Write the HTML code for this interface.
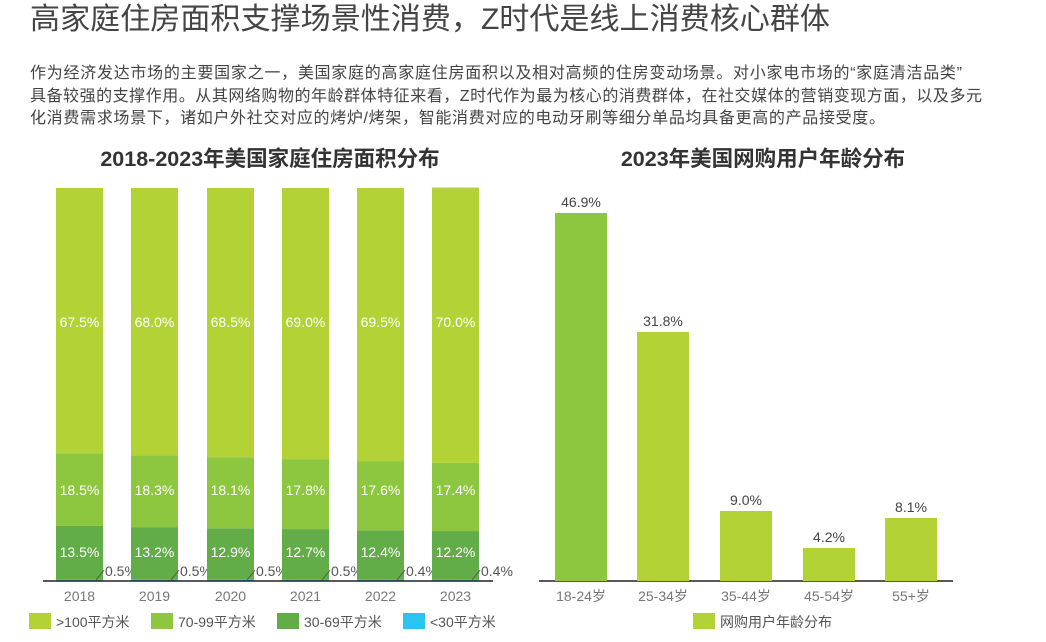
<!DOCTYPE html>
<html><head><meta charset="utf-8"><style>
body{margin:0;background:#fff;width:1046px;height:642px;overflow:hidden;font-family:"Liberation Sans","Noto Sans CJK SC",sans-serif;}
svg{position:absolute;left:0;top:0}
</style></head><body>
<svg width="1046" height="642" xmlns="http://www.w3.org/2000/svg" font-family="Liberation Sans, Noto Sans CJK SC, sans-serif">
<text x="30" y="29" font-size="30" fill="#444" textLength="800" lengthAdjust="spacingAndGlyphs">高家庭住房面积支撑场景性消费，Z时代是线上消费核心群体</text>
<g font-size="16" fill="#444">
<text x="30" y="78" textLength="932" lengthAdjust="spacing">作为经济发达市场的主要国家之一，美国家庭的高家庭住房面积以及相对高频的住房变动场景。对小家电市场的“家庭清洁品类”</text>
<text x="30" y="101" textLength="952" lengthAdjust="spacing">具备较强的支撑作用。从其网络购物的年龄群体特征来看，Z时代作为最为核心的消费群体，在社交媒体的营销变现方面，以及多元</text>
<text x="30" y="123" textLength="855" lengthAdjust="spacing">化消费需求场景下，诸如户外社交对应的烤炉/烤架，智能消费对应的电动牙刷等细分单品均具备更高的产品接受度。</text>
</g>
<g font-size="21.5" font-weight="bold" fill="#333" text-anchor="middle">
<text x="270" y="166">2018-2023年美国家庭住房面积分布</text>
<text x="763" y="166">2023年美国网购用户年龄分布</text>
</g>
<g id="left"></g>
<line x1="43" y1="581" x2="493" y2="581" stroke="#222" stroke-width="1.5"/>
<line x1="539" y1="581" x2="953" y2="581" stroke="#222" stroke-width="1.5"/>
<g fill="#b2d235">
<rect x="555" y="213" width="52" height="368" fill="#8dc63f"/>
<rect x="637" y="332" width="52" height="249"/>
<rect x="720" y="511" width="52" height="70"/>
<rect x="803" y="548" width="52" height="33"/>
<rect x="885" y="518" width="52" height="63"/>
</g>
<g font-size="14" fill="#444" text-anchor="middle">
<text x="581" y="207">46.9%</text><text x="663" y="326">31.8%</text><text x="746" y="505">9.0%</text><text x="829" y="542">4.2%</text><text x="911" y="512">8.1%</text>
</g>
<g font-size="14" fill="#777" text-anchor="middle">
<text x="581" y="601">18-24岁</text><text x="663" y="601">25-34岁</text><text x="746" y="601">35-44岁</text><text x="829" y="601">45-54岁</text><text x="911" y="601">55+岁</text>
</g>
<rect x="693" y="613" width="22" height="16" fill="#b2d235"/>
<text x="720" y="627" font-size="14" fill="#555">网购用户年龄分布</text>
<g font-size="14" fill="#555">
<rect x="29" y="613" width="22" height="16" fill="#b2d235"/><text x="56" y="627">&gt;100平方米</text>
<rect x="151" y="613" width="22" height="16" fill="#8dc63f"/><text x="178" y="627">70-99平方米</text>
<rect x="277" y="613" width="22" height="16" fill="#62ad47"/><text x="304" y="627">30-69平方米</text>
<rect x="403" y="613" width="22" height="16" fill="#29c5f0"/><text x="430" y="627">&lt;30平方米</text>
</g>
</svg>
<script>
var d=[["2018",67.5,18.5,13.5,0.5,56],["2019",68.0,18.3,13.2,0.5,131],["2020",68.5,18.1,12.9,0.5,207],["2021",69.0,17.8,12.7,0.5,282],["2022",69.5,17.6,12.4,0.4,357],["2023",70.0,17.4,12.2,0.4,432]];
var g=document.getElementById("left"),s="",H=393,B=581,w=47;
d.forEach(function(r){var x=r[5],y=B;var c=["#29c5f0","#62ad47","#8dc63f","#b2d235"],v=[r[4],r[3],r[2],r[1]];
for(var i=0;i<4;i++){var h=v[i]/100*H;if(i==0)h=Math.max(h,2);y-=h;s+='<rect x="'+x+'" y="'+y+'" width="'+w+'" height="'+h+'" fill="'+c[i]+'"/>';}
var cx=x+w/2;
s+='<text x="'+cx+'" y="327" font-size="14" fill="#fff" text-anchor="middle">'+r[1].toFixed(1)+'%</text>';
s+='<text x="'+cx+'" y="495" font-size="14" fill="#fff" text-anchor="middle">'+r[2].toFixed(1)+'%</text>';
s+='<text x="'+cx+'" y="557" font-size="14" fill="#fff" text-anchor="middle">'+r[3].toFixed(1)+'%</text>';
s+='<line x1="'+(x+w-7)+'" y1="580" x2="'+(x+w+1)+'" y2="570" stroke="#555" stroke-width="1"/>';
s+='<text x="'+(x+w+2)+'" y="576" font-size="14" fill="#555">'+r[4].toFixed(1)+'%</text>';
s+='<text x="'+cx+'" y="601" font-size="14" fill="#777" text-anchor="middle">'+r[0]+'</text>';});
g.innerHTML=s;
</script>
</body></html>
